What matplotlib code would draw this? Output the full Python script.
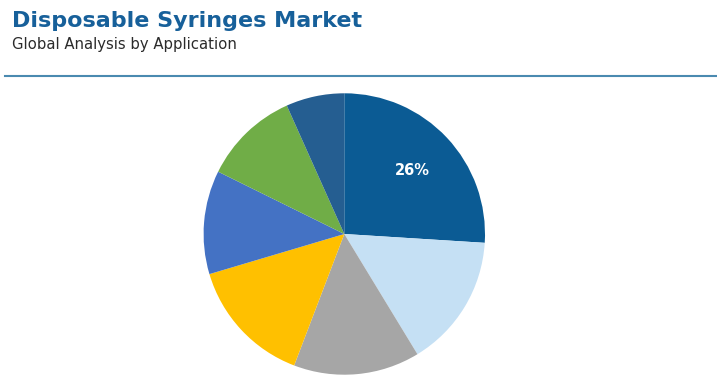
import matplotlib.pyplot as plt
from matplotlib.lines import Line2D

# application shares
segments = ["Seg 1", "Seg 2", "Seg 3", "Seg 4", "Seg 5", "Seg 6", "Seg 7"]
shares = [26.0, 15.3, 14.5, 14.6, 11.9, 11.0, 6.7]
colors = ["#0b5b94", "#c5e0f4", "#a6a6a6", "#ffc000", "#4472c4", "#70ad47", "#255e91"]

fig = plt.figure(figsize=(7.17, 3.81), dpi=100)
fig.patch.set_facecolor("white")

fig.text(12 / 717, 1 - 21 / 381, "Disposable Syringes Market", fontsize=16, fontweight="heavy",
         color="#17609a", va="center", ha="left", family="DejaVu Sans")
fig.text(12 / 717, 1 - 45 / 381, "Global Analysis by Application", fontsize=10.7,
         color="#2b2b2b", va="center", ha="left", family="DejaVu Sans")
fig.add_artist(Line2D([5 / 717, 1.0], [1 - 76 / 381] * 2, color="#4a8ab0", lw=1.5,
                      transform=fig.transFigure))

cx, cy, r = 344.3, 234, 140.7
ax = fig.add_axes([(cx - r) / 717, (381 - cy - r) / 381, 2 * r / 717, 2 * r / 381])
wedges, texts, autotexts = ax.pie(shares, colors=colors, startangle=90, counterclock=False,
                                  autopct=lambda p: "26%" if p > 20 else "", pctdistance=0.66,
                                  wedgeprops=dict(linewidth=0))
for t in autotexts:
    t.set_color("white")
    t.set_fontweight("bold")
    t.set_fontsize(10.5)
ax.set_xlim(-1, 1)
ax.set_ylim(-1, 1)
ax.set_aspect("equal")
ax.axis("off")

fig.savefig("out.png", dpi=100, facecolor="white")
